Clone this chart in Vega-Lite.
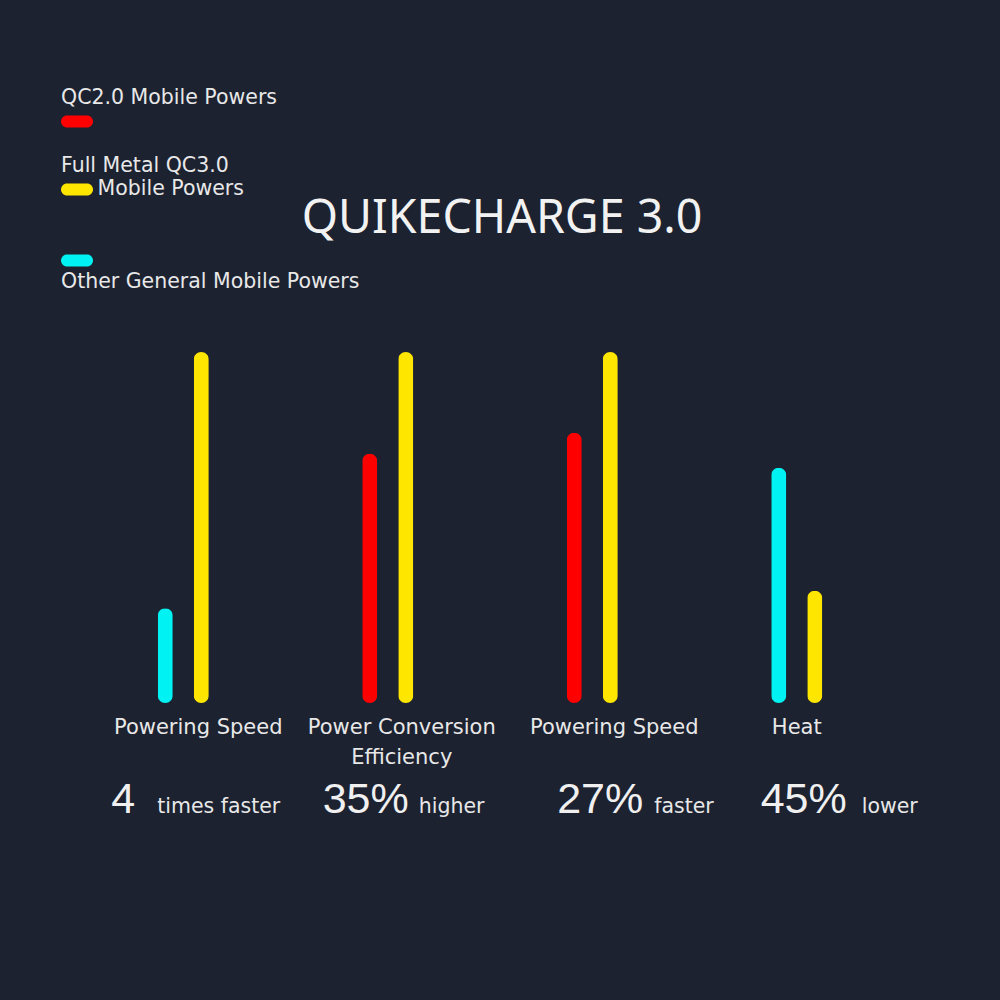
{
  "$schema": "https://vega.github.io/schema/vega-lite/v6.json",
  "width": 818,
  "height": 351,
  "autosize": {"type": "none"},
  "padding": {"left": 81, "top": 352, "right": 101, "bottom": 297},
  "background": "#1c2230",
  "config": {"view": {"stroke": null}},
  "title": {
    "text": "QUIKECHARGE 3.0",
    "anchor": "middle",
    "frame": "group",
    "font": "Noto Sans",
    "fontSize": 46.5,
    "fontWeight": "normal",
    "color": "#f2f2f2",
    "dx": 12,
    "dy": 160,
    "offset": 10
  },
  "datasets": {
    "bars": [
      {"group": "g1", "series": "Other General Mobile Powers", "role": "competitor", "value": 27},
      {"group": "g1", "series": "Full Metal QC3.0 Mobile Powers", "role": "product", "value": 100},
      {"group": "g2", "series": "QC2.0 Mobile Powers", "role": "competitor", "value": 71},
      {"group": "g2", "series": "Full Metal QC3.0 Mobile Powers", "role": "product", "value": 100},
      {"group": "g3", "series": "QC2.0 Mobile Powers", "role": "competitor", "value": 77},
      {"group": "g3", "series": "Full Metal QC3.0 Mobile Powers", "role": "product", "value": 100},
      {"group": "g4", "series": "Other General Mobile Powers", "role": "competitor", "value": 67},
      {"group": "g4", "series": "Full Metal QC3.0 Mobile Powers", "role": "product", "value": 32}
    ],
    "labels": [
      {"group": "g1", "label": "Powering Speed", "stat": "4", "suffix": "times faster"},
      {"group": "g2", "label": "Power Conversion\nEfficiency", "stat": "35%", "suffix": "higher"},
      {"group": "g3", "label": "Powering Speed", "stat": "27%", "suffix": "faster"},
      {"group": "g4", "label": "Heat", "stat": "45%", "suffix": "lower"}
    ]
  },
  "layer": [
    {
      "data": {"name": "bars"},
      "mark": {"type": "bar", "cornerRadius": 7.5},
      "encoding": {
        "x": {
          "field": "group",
          "type": "nominal",
          "axis": null,
          "scale": {"domain": ["g1", "g2", "g3", "g4"], "paddingInner": 0.398, "paddingOuter": 0.199}
        },
        "xOffset": {
          "field": "role",
          "type": "nominal",
          "scale": {"domain": ["competitor", "product"], "paddingInner": 0.583, "paddingOuter": 1}
        },
        "y": {
          "field": "value",
          "type": "quantitative",
          "axis": null,
          "scale": {"domain": [0, 100], "nice": false}
        },
        "color": {
          "field": "series",
          "type": "nominal",
          "scale": {
            "domain": ["QC2.0 Mobile Powers", "Full Metal QC3.0 Mobile Powers", "Other General Mobile Powers"],
            "range": ["#ff0000", "#ffe600", "#00f2f2"]
          },
          "legend": {
            "orient": "none",
            "legendX": -20,
            "legendY": -260,
            "title": null,
            "padding": 0,
            "symbolType": "M-0.625,0.475 L0.625,0.475 A0.375,0.375 0 0 1 0.625,1.225 L-0.625,1.225 A0.375,0.375 0 0 1 -0.625,0.475 Z",
            "symbolSize": 1024,
            "symbolStrokeWidth": 0,
            "labelOffset": -32,
            "labelBaseline": "bottom",
            "labelFont": "DejaVu Sans",
            "labelFontSize": 20.5,
            "labelColor": "#e8e8e8",
            "labelLimit": 500,
            "rowPadding": 28,
            "labelExpr": "datum.label == 'Full Metal QC3.0 Mobile Powers' ? ['Full Metal QC3.0', '\u2800\u2800 Mobile Powers'] : datum.label == 'Other General Mobile Powers' ? ['\u2800', '\u2800', 'Other General Mobile Powers'] : datum.label"
          }
        }
      }
    },
    {
      "data": {"name": "labels"},
      "mark": {
        "type": "text",
        "align": "center",
        "baseline": "alphabetic",
        "dy": 31,
        "dx": {"expr": "datum.group == 'g1' ? 15 : datum.group == 'g2' ? 14 : datum.group == 'g3' ? 22 : 0"},
        "lineBreak": "\n",
        "lineHeight": 30,
        "font": "DejaVu Sans",
        "fontSize": 21,
        "color": "#e8e8e8"
      },
      "encoding": {
        "x": {"field": "group", "type": "nominal"},
        "y": {"datum": 0},
        "text": {"field": "label"}
      }
    },
    {
      "data": {"name": "labels"},
      "mark": {
        "type": "text",
        "align": "right",
        "baseline": "alphabetic",
        "dy": 110,
        "dx": {"expr": "datum.group == 'g1' ? -48 : datum.group == 'g2' ? 21 : datum.group == 'g3' ? 51 : 50"},
        "font": "Liberation Sans",
        "fontSize": 43,
        "color": "#f0f0f0"
      },
      "encoding": {
        "x": {"field": "group", "type": "nominal"},
        "y": {"datum": 0},
        "text": {"field": "stat"}
      }
    },
    {
      "data": {"name": "labels"},
      "mark": {
        "type": "text",
        "align": "left",
        "baseline": "alphabetic",
        "dy": 110,
        "dx": {"expr": "datum.group == 'g1' ? -26 : datum.group == 'g2' ? 31 : datum.group == 'g3' ? 62 : 65"},
        "font": "DejaVu Sans",
        "fontSize": 20.5,
        "color": "#e8e8e8"
      },
      "encoding": {
        "x": {"field": "group", "type": "nominal"},
        "y": {"datum": 0},
        "text": {"field": "suffix"}
      }
    }
  ]
}
